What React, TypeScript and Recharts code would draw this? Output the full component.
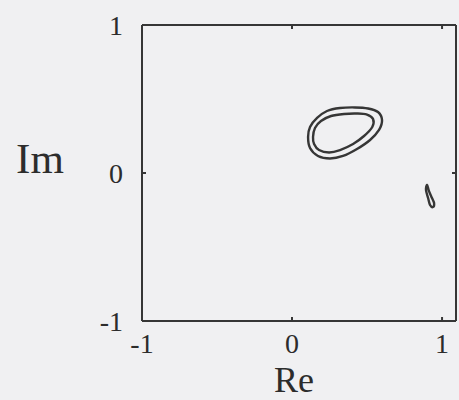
import React from 'react';
import { ScatterChart, Scatter, XAxis, YAxis } from 'recharts';

// Contour lines in the complex plane (Re, Im)
const outerContour = [
  { x: 0.107, y: 0.243 }, { x: 0.12, y: 0.311 }, { x: 0.167, y: 0.372 }, { x: 0.233, y: 0.419 },
  { x: 0.32, y: 0.439 }, { x: 0.42, y: 0.443 }, { x: 0.507, y: 0.436 }, { x: 0.573, y: 0.412 },
  { x: 0.6, y: 0.358 }, { x: 0.58, y: 0.291 }, { x: 0.52, y: 0.223 }, { x: 0.433, y: 0.162 },
  { x: 0.34, y: 0.115 }, { x: 0.253, y: 0.098 }, { x: 0.173, y: 0.115 }, { x: 0.12, y: 0.169 },
];

const innerContour = [
  { x: 0.14, y: 0.243 }, { x: 0.153, y: 0.304 }, { x: 0.193, y: 0.351 }, { x: 0.26, y: 0.385 },
  { x: 0.347, y: 0.399 }, { x: 0.433, y: 0.402 }, { x: 0.5, y: 0.395 }, { x: 0.54, y: 0.365 },
  { x: 0.535, y: 0.311 }, { x: 0.48, y: 0.25 }, { x: 0.407, y: 0.196 }, { x: 0.32, y: 0.155 },
  { x: 0.247, y: 0.139 }, { x: 0.18, y: 0.155 }, { x: 0.147, y: 0.196 },
];

const smallLoop = [
  { x: 0.9, y: -0.081 }, { x: 0.913, y: -0.122 }, { x: 0.933, y: -0.169 }, { x: 0.947, y: -0.203 },
  { x: 0.94, y: -0.23 }, { x: 0.92, y: -0.216 }, { x: 0.907, y: -0.169 }, { x: 0.893, y: -0.115 },
];

const xTicks = [-1, 0, 1];
const yTicks = [-1, 0, 1];
const topTicks = [0, 1];
const rightTicks = [0];
const xDomain = [-1, 1.093];
const yDomain = [-1, 1];

const INK = '#363636';
const TEXT = '#2c2c2c';
const FONT = '"Liberation Serif", "DejaVu Serif", serif';

// Closed Catmull-Rom spline, passed to the series as its line curve
const closedSmooth = (context: any) => {
  let pts: [number, number][] = [];
  return {
    areaStart() {},
    areaEnd() {},
    lineStart() { pts = []; },
    point(x: number, y: number) { pts.push([x, y]); },
    lineEnd() {
      const n = pts.length;
      if (!n) return;
      context.moveTo(pts[0][0], pts[0][1]);
      for (let i = 0; i < n; i++) {
        const p0 = pts[(i - 1 + n) % n];
        const p1 = pts[i];
        const p2 = pts[(i + 1) % n];
        const p3 = pts[(i + 2) % n];
        context.bezierCurveTo(
          p1[0] + (p2[0] - p0[0]) / 6, p1[1] + (p2[1] - p0[1]) / 6,
          p2[0] - (p3[0] - p1[0]) / 6, p2[1] - (p3[1] - p1[1]) / 6,
          p2[0], p2[1],
        );
      }
      context.closePath();
    },
  };
};

const BottomTick = (props: any) => {
  const { x, y, payload } = props;
  return (
    <g>
      <line x1={x} y1={y} x2={x} y2={y - 4} stroke={INK} strokeWidth={2} />
      <text x={x} y={y + 32} textAnchor="middle" fontFamily={FONT} fontSize={28} fill={TEXT}>
        {String(payload.value)}
      </text>
    </g>
  );
};

const LeftTick = (props: any) => {
  const { x, y, payload } = props;
  return (
    <g>
      <line x1={x} y1={y} x2={x + 4} y2={y} stroke={INK} strokeWidth={2} />
      <text x={x - 19} y={y + 10} textAnchor="end" fontFamily={FONT} fontSize={28} fill={TEXT}>
        {String(payload.value)}
      </text>
    </g>
  );
};

const TopTick = (props: any) => {
  const { x, y } = props;
  return <line x1={x} y1={y} x2={x} y2={y + 4} stroke={INK} strokeWidth={2} />;
};

const RightTick = (props: any) => {
  const { x, y } = props;
  return <line x1={x} y1={y} x2={x - 4} y2={y} stroke={INK} strokeWidth={2} />;
};

const noDot = () => null;

export default function App() {
  return (
    <div style={{ position: 'absolute', left: 0, top: 0, width: 459, height: 400, background: '#f0f0f2' }}>
      <ScatterChart width={459} height={400} margin={{ top: 0, right: 0, bottom: 0, left: 0 }}>
        <XAxis
          xAxisId="b"
          type="number"
          dataKey="x"
          domain={xDomain}
          allowDataOverflow
          ticks={xTicks}
          height={79}
          tickSize={0}
          tickMargin={0}
          tickLine={false}
          axisLine={{ stroke: INK, strokeWidth: 2 }}
          tick={<BottomTick />}
          interval={0}
          label={{
            content: (p: any) => (
              <text
                x={p.viewBox.x + 152}
                y={p.viewBox.y + 71}
                textAnchor="middle"
                fontFamily={FONT}
                fontSize={36}
                fill={TEXT}
              >
                Re
              </text>
            ),
          }}
        />
        <XAxis
          xAxisId="t"
          orientation="top"
          type="number"
          dataKey="x"
          domain={xDomain}
          allowDataOverflow
          ticks={topTicks}
          height={25}
          tickSize={0}
          tickMargin={0}
          tickLine={false}
          axisLine={{ stroke: INK, strokeWidth: 2 }}
          tick={<TopTick />}
          interval={0}
        />
        <YAxis
          yAxisId="l"
          type="number"
          dataKey="y"
          domain={yDomain}
          allowDataOverflow
          ticks={yTicks}
          width={142}
          tickSize={0}
          tickMargin={0}
          tickLine={false}
          axisLine={{ stroke: INK, strokeWidth: 2 }}
          tick={<LeftTick />}
          interval={0}
          label={{
            content: (p: any) => (
              <text
                x={p.viewBox.x + 40}
                y={p.viewBox.y + p.viewBox.height / 2}
                textAnchor="middle"
                fontFamily={FONT}
                fontSize={43}
                fill={TEXT}
              >
                Im
              </text>
            ),
          }}
        />
        <YAxis
          yAxisId="r"
          orientation="right"
          type="number"
          dataKey="y"
          domain={yDomain}
          allowDataOverflow
          ticks={rightTicks}
          width={3}
          tickSize={0}
          tickMargin={0}
          tickLine={false}
          axisLine={{ stroke: INK, strokeWidth: 2 }}
          tick={<RightTick />}
          interval={0}
        />
        {[outerContour, innerContour, smallLoop].map((d, i) => (
          <Scatter
            key={i}
            data={d}
            xAxisId="b"
            yAxisId="l"
            line={{ stroke: INK, strokeWidth: 2.4, fill: 'none' }}
            lineType="joint"
            lineJointType={closedSmooth as any}
            shape={noDot as any}
            isAnimationActive={false}
          />
        ))}
      </ScatterChart>
    </div>
  );
}
